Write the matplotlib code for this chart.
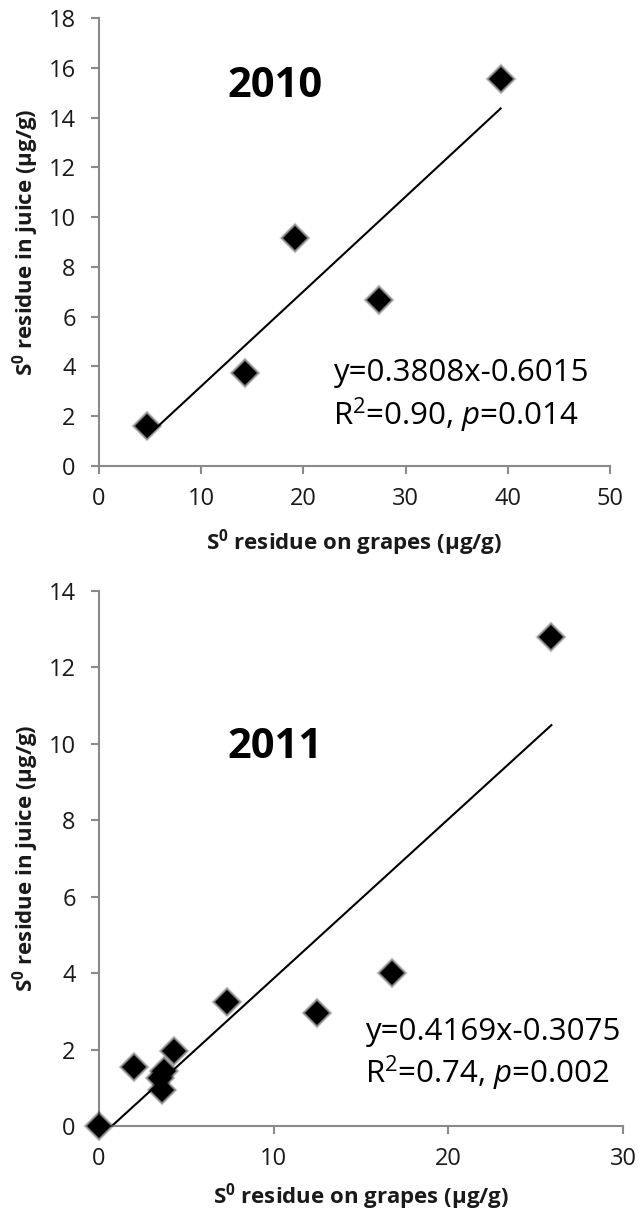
import matplotlib
matplotlib.use("Agg")
import matplotlib.pyplot as plt
import numpy as np

# 2010 data (S0 on grapes vs S0 in juice)
x_2010 = [4.7, 14.3, 19.2, 27.4, 39.3]
y_2010 = [1.6, 3.75, 9.15, 6.65, 15.55]
slope_2010, icpt_2010 = 0.3808, -0.6015

# 2011 data
x_2011 = [0.0, 2.0, 3.5, 3.6, 3.7, 4.3, 7.3, 12.5, 16.8, 25.9]
y_2011 = [0.0, 1.55, 1.25, 0.95, 1.45, 1.95, 3.25, 2.95, 4.0, 12.8]
slope_2011, icpt_2011 = 0.4169, -0.3075

plt.rcParams['font.family'] = ['Open Sans', 'DejaVu Sans']
plt.rcParams['mathtext.fontset'] = 'custom'
plt.rcParams['mathtext.rm'] = 'Open Sans'
plt.rcParams['mathtext.it'] = 'Open Sans:italic'
plt.rcParams['mathtext.bf'] = 'Open Sans:bold'

W, H = 640, 1213
fig = plt.figure(figsize=(W / 100, H / 100), dpi=100)
# axes boxes in pixels: left, right, top, bottom
ax1 = fig.add_axes([99 / W, 1 - 466 / H, (610 - 99) / W, (466 - 18) / H])
ax2 = fig.add_axes([99 / W, 1 - 1126 / H, (623 - 99) / W, (1126 - 591) / H])

grey = '#8a8a8a'
eq_size = 22.5


def style(ax, ylab_x, xlab_y):
    for s in ['top', 'right']:
        ax.spines[s].set_visible(False)
    for s in ['left', 'bottom']:
        ax.spines[s].set_color(grey)
        ax.spines[s].set_linewidth(1.5)
    ax.tick_params(direction='out', length=5.8, width=1.5, color=grey,
                   labelsize=17, labelcolor='#1a1a1a')
    ax.tick_params(axis='x', pad=9)
    ax.tick_params(axis='y', pad=11)
    ax.set_ylabel(r'$\mathbf{S^0}$ residue in juice (µg/g)', fontsize=16,
                  fontweight='bold', va='center', color='#1a1a1a')
    ax.set_xlabel(r'$\mathbf{S^0}$ residue on grapes (µg/g)', fontsize=16,
                  fontweight='bold', va='center', color='#1a1a1a')
    ax.yaxis.set_label_coords(ylab_x, 0.5)
    ax.xaxis.set_label_coords(0.5, xlab_y)


def scatter(ax, x, y):
    # soft blurred edge around the diamonds
    for ms, a in [(16, 0.1), (15, 0.18), (14, 0.3)]:
        ax.plot(x, y, linestyle='none', marker='D', markersize=ms,
                color='black', alpha=a, markeredgewidth=0, clip_on=False,
                zorder=3)
    ax.plot(x, y, linestyle='none', marker='D', markersize=12.5, color='black',
            markeredgewidth=0, clip_on=False, zorder=4)


# ---- 2010 ----
scatter(ax1, x_2010, y_2010)
xs = np.array([min(x_2010), max(x_2010)])
ax1.plot(xs, slope_2010 * xs + icpt_2010, color='black', linewidth=1.5, zorder=2)
ax1.set_xlim(0, 50)
ax1.set_ylim(0, 18)
ax1.set_xticks(range(0, 51, 10))
ax1.set_yticks(range(0, 19, 2))
style(ax1, -(99 - 26) / 511, -(543 - 466) / 448)
ax1.text(0.344, 0.846, '2010', transform=ax1.transAxes, fontsize=30,
         fontweight='bold', ha='center', va='center')
ax1.text(0.458, 0.2076, 'y=0.3808x-0.6015', transform=ax1.transAxes,
         fontsize=eq_size, ha='left', va='center')
ax1.text(0.458, 0.114, r'R$^2$=0.90, $p$=0.014', transform=ax1.transAxes,
         fontsize=eq_size, ha='left', va='center')

# ---- 2011 ----
scatter(ax2, x_2011, y_2011)
xs = np.array([min(x_2011), max(x_2011)])
ax2.plot(xs, slope_2011 * xs + icpt_2011, color='black', linewidth=1.5, zorder=2)
ax2.set_xlim(0, 30)
ax2.set_ylim(0, 14)
ax2.set_xticks(range(0, 31, 10))
ax2.set_yticks(range(0, 15, 2))
style(ax2, -(99 - 26) / 524, -(1197 - 1126) / 535)
ax2.text(0.336, 0.708, '2011', transform=ax2.transAxes, fontsize=30,
         fontweight='bold', ha='center', va='center')
ax2.text(0.508, 0.176, 'y=0.4169x-0.3075', transform=ax2.transAxes,
         fontsize=eq_size, ha='left', va='center', clip_on=False)
ax2.text(0.508, 0.099, r'R$^2$=0.74, $p$=0.002', transform=ax2.transAxes,
         fontsize=eq_size, ha='left', va='center', clip_on=False)

fig.savefig('out.png', dpi=100)
